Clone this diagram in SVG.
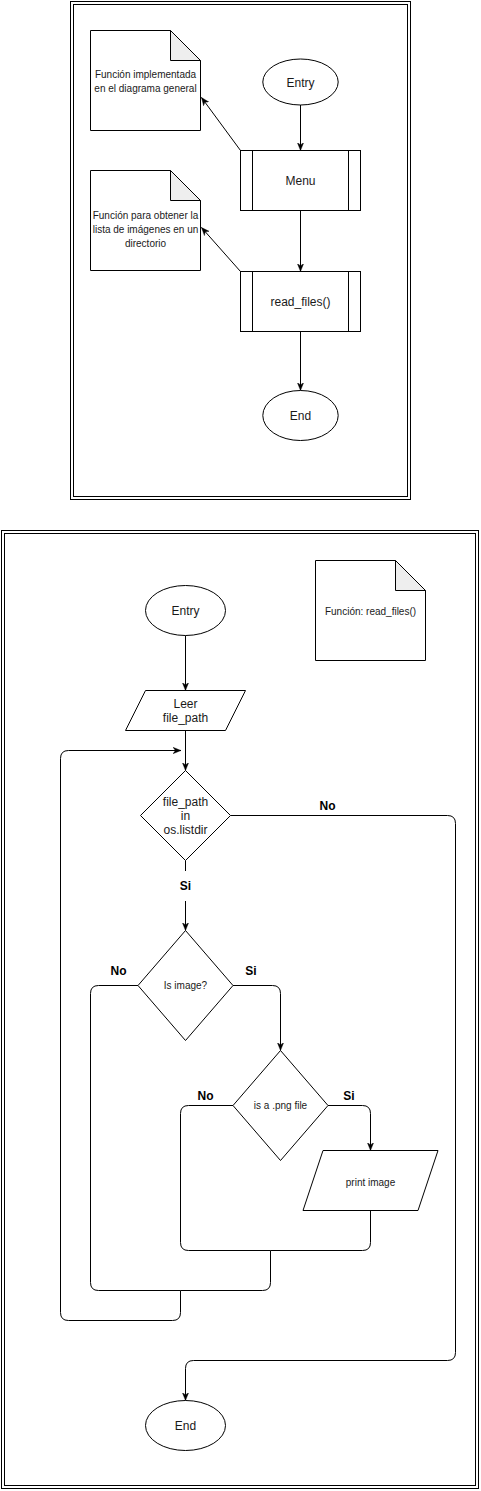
<svg xmlns="http://www.w3.org/2000/svg" width="481" height="1491" viewBox="0 0 481 1491">
<style>
.s{fill:#fff;stroke:#000;stroke-width:1}
.ln{fill:none;stroke:#000;stroke-width:1}
.fold{fill:#eeeeee;stroke:#000;stroke-width:1;stroke-linejoin:miter}
.t12{font-family:"Liberation Sans",Arial,sans-serif;font-size:12px;fill:#1a1a1a;text-anchor:middle}
.t10{font-family:"Liberation Sans",Arial,sans-serif;font-size:10px;fill:#1a1a1a;text-anchor:middle}
.lb{font-family:"Liberation Sans",Arial,sans-serif;font-size:12px;font-weight:bold;fill:#000;text-anchor:middle}
</style>
<defs>
<marker id="arr" viewBox="0 0 10 10" refX="10" refY="5" markerWidth="8" markerHeight="8" markerUnits="userSpaceOnUse" orient="auto">
<path d="M0,1 L10,5 L0,9 L3,5 Z" fill="#000" stroke="#000" stroke-width="0.5"/>
</marker>
</defs>
<rect width="481" height="1491" fill="#fff"/>

<g id="frame-top">
<rect class="s" x="70.5" y="1.5" width="340" height="498"/>
<rect class="ln" x="73.5" y="4.5" width="334" height="492"/>
</g>
<g id="frame-bottom">
<rect class="s" x="1.5" y="530.5" width="477" height="958"/>
<rect class="ln" x="4.5" y="533.5" width="471" height="952"/>
</g>

<g id="connectors">
<path class="ln" d="M300.5,105 V150.5" marker-end="url(#arr)"/>
<path class="ln" d="M300.5,210.5 V271.5" marker-end="url(#arr)"/>
<path class="ln" d="M300.5,331.5 V390.5" marker-end="url(#arr)"/>
<path class="ln" d="M240.5,150.5 L201.5,97.5" marker-end="url(#arr)"/>
<path class="ln" d="M240.5,271.5 L201.5,227.5" marker-end="url(#arr)"/>

<path class="ln" d="M185.5,635.5 V690.5" marker-end="url(#arr)"/>
<path class="ln" d="M185.5,730.5 V770.5" marker-end="url(#arr)"/>
<path class="ln" d="M185.5,860.5 V930.5" marker-end="url(#arr)"/>
<rect x="175" y="871" width="21" height="30" fill="#fff"/>
<path class="ln" d="M230.5,815.5 H447.5 Q455.5,815.5 455.5,823.5 V1352.5 Q455.5,1360.5 447.5,1360.5 H193.5 Q185.5,1360.5 185.5,1368.5 V1400.5" marker-end="url(#arr)"/>
<path class="ln" d="M233,985.5 H272.5 Q280.5,985.5 280.5,993.5 V1050.5" marker-end="url(#arr)"/>
<path class="ln" d="M328,1105.5 H362.5 Q370.5,1105.5 370.5,1113.5 V1150.5" marker-end="url(#arr)"/>
<path class="ln" d="M233,1105.5 H188.5 Q180.5,1105.5 180.5,1113.5 V1242.5 Q180.5,1250.5 188.5,1250.5 H270.5"/>
<path class="ln" d="M370.5,1210.5 V1242.5 Q370.5,1250.5 362.5,1250.5 H270.5 V1282.5 Q270.5,1290.5 262.5,1290.5 H180.5"/>
<path class="ln" d="M138,985.5 H98.5 Q90.5,985.5 90.5,993.5 V1282.5 Q90.5,1290.5 98.5,1290.5 H180.5 V1312.5 Q180.5,1320.5 172.5,1320.5 H68.5 Q60.5,1320.5 60.5,1312.5 V758.5 Q60.5,750.5 68.5,750.5 H181" marker-end="url(#arr)"/>

<text class="lb" x="327.5" y="809.5">No</text>
<text class="lb" x="185.5" y="890">Si</text>
<text class="lb" x="118.5" y="975">No</text>
<text class="lb" x="251" y="975">Si</text>
<text class="lb" x="205.5" y="1100">No</text>
<text class="lb" x="349" y="1100">Si</text>
</g>

<g id="entry-top">
<ellipse class="s" cx="300.5" cy="82" rx="37.7" ry="23"/>
<text class="t12" x="300.5" y="86.5">Entry</text>
</g>
<g id="menu">
<rect class="s" x="240.5" y="150.5" width="120" height="60"/>
<path class="ln" d="M252.5,150.5 V210.5 M348.5,150.5 V210.5"/>
<text class="t12" x="300.5" y="184.5">Menu</text>
</g>
<g id="read-files">
<rect class="s" x="240.5" y="271.5" width="120" height="60"/>
<path class="ln" d="M252.5,271.5 V331.5 M348.5,271.5 V331.5"/>
<text class="t12" x="300.5" y="306">read_files()</text>
</g>
<g id="end-top">
<ellipse class="s" cx="300.5" cy="415.5" rx="37.7" ry="25"/>
<text class="t12" x="300.5" y="420">End</text>
</g>
<g id="note-general">
<path class="s" d="M90.5,30.5 H170.5 L200.5,60.5 V130.5 H90.5 Z"/>
<path class="fold" d="M170.5,30.5 V60.5 H200.5 Z"/>
<text class="t10" x="145.5" y="78.3">Función implementada</text>
<text class="t10" x="145.5" y="92.3">en el diagrama general</text>
</g>
<g id="note-list">
<path class="s" d="M90.5,170.5 H170.5 L200.5,200.5 V270.5 H90.5 Z"/>
<path class="fold" d="M170.5,170.5 V200.5 H200.5 Z"/>
<text class="t10" x="145.5" y="219.3">Función para obtener la</text>
<text class="t10" x="145.5" y="233.3">lista de imágenes en un</text>
<text class="t10" x="145.5" y="247.3">directorio</text>
</g>

<g id="entry-bottom">
<ellipse class="s" cx="185.5" cy="610.5" rx="40" ry="25"/>
<text class="t12" x="185.5" y="614.8">Entry</text>
</g>
<g id="note-read-files">
<path class="s" d="M315.5,560.5 H395.5 L425.5,590.5 V660.5 H315.5 Z"/>
<path class="fold" d="M395.5,560.5 V590.5 H425.5 Z"/>
<text class="t10" x="370.5" y="614.5">Función: read_files()</text>
</g>
<g id="leer">
<path class="s" d="M145.5,690.5 H245.5 L225.5,730.5 H125.5 Z"/>
<text class="t12" x="185.5" y="707.5">Leer</text>
<text class="t12" x="185.5" y="721.5">file_path</text>
</g>
<g id="cond-listdir">
<path class="s" d="M185.5,770.5 L230.5,815.5 L185.5,860.5 L140.5,815.5 Z"/>
<text class="t12" x="185.5" y="805.5">file_path</text>
<text class="t12" x="185.5" y="819.5">in</text>
<text class="t12" x="185.5" y="833.5">os.listdir</text>
</g>
<g id="cond-image">
<path class="s" d="M185.5,930.5 L233,985.5 L185.5,1040.5 L138,985.5 Z"/>
<text class="t10" x="185.5" y="989">Is image?</text>
</g>
<g id="cond-png">
<path class="s" d="M280.5,1050.5 L328,1105.5 L280.5,1160.5 L233,1105.5 Z"/>
<text class="t10" x="280.5" y="1109">is a .png file</text>
</g>
<g id="print-image">
<path class="s" d="M323,1150.5 H438 L418,1210.5 H303 Z"/>
<text class="t10" x="370.5" y="1185.5">print image</text>
</g>
<g id="end-bottom">
<ellipse class="s" cx="185.5" cy="1425.5" rx="40" ry="25"/>
<text class="t12" x="185.5" y="1429.5">End</text>
</g>
</svg>
